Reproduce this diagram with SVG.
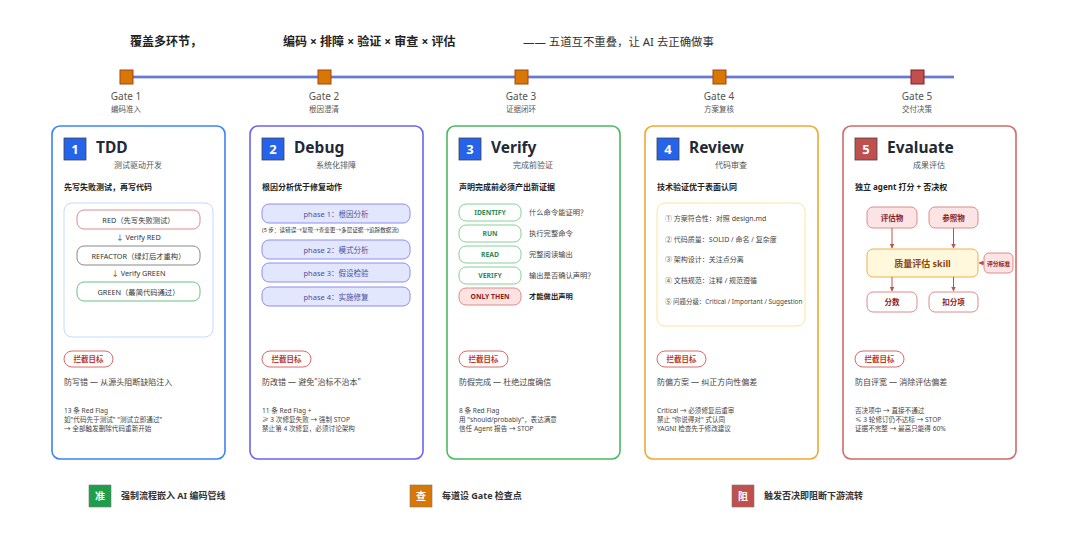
<svg xmlns="http://www.w3.org/2000/svg" width="1080" height="536" viewBox="0 0 1080 536">
<defs>
<style>
text{font-family:"Noto Sans","Noto Sans CJK SC",sans-serif;fill:#333}
.hd{font-size:12px;font-weight:700;fill:#222}
.hn{font-size:11.4px;fill:#333}
.gt{font-size:10px;fill:#555;text-anchor:middle}
.gs{font-size:7.5px;fill:#555;text-anchor:middle}
.card{fill:#fff;stroke-width:1.6}
.num{stroke:#444;stroke-width:0.8}
.numt{font-size:13px;font-weight:700;fill:#fff;text-anchor:middle}
.title{font-size:15.5px;font-weight:700;fill:#1f2937}
.sub{font-size:8px;fill:#555;text-anchor:middle}
.bold{font-size:8px;font-weight:700;fill:#222}
.tag{fill:#fff;stroke:#d96a6a;stroke-width:1}
.tagt{font-size:7.5px;font-weight:700;fill:#c0392b;text-anchor:middle}
.goal{font-size:8px;fill:#444}
.rf{font-size:6.6px;fill:#444}
.pill{fill:#fff;stroke-width:1}
.pt{font-size:7.3px;text-anchor:middle}
.ph{fill:#e3e7fd;stroke:#8c8ef0;stroke-width:1}
.pht{font-size:7.5px;fill:#4b4f9e;text-anchor:middle}
.vp{fill:#fff;stroke:#86d29a;stroke-width:1}
.vpt{font-size:6.8px;font-weight:700;fill:#2e8b57;text-anchor:middle}
.vl{font-size:7.3px;fill:#444}
.rv{font-size:7px;fill:#444}
.rv5{font-size:6.45px;fill:#444}
.eb{fill:#fde4e4;stroke:#e08a8a;stroke-width:1}
.ebt{font-size:7.5px;font-weight:700;fill:#8b1a1a;text-anchor:middle}
.ft{font-size:9px;font-weight:700;fill:#333}
.fbt{font-size:10px;font-weight:700;fill:#fff;text-anchor:middle}
</style>
<marker id="ah" viewBox="0 0 10 10" refX="9" refY="5" markerWidth="5" markerHeight="5" orient="auto-start-reverse">
<path d="M0,0L10,5L0,10z" fill="#c0504d"/>
</marker>
</defs>
<rect width="1080" height="536" fill="#fff"/>

<g id="header">
<text class="hd" x="130" y="46">覆盖多环节，</text>
<text class="hd" x="283" y="46">编码 × 排障 × 验证 × 审查 × 评估</text>
<text class="hn" x="523" y="46">—— 五道互不重叠，让 AI 去正确做事</text>
</g>

<g id="timeline">
<line x1="127" y1="77" x2="954" y2="77" stroke="#c7cdf2" stroke-width="4"/>
<line x1="127" y1="77" x2="954" y2="77" stroke="#4a5bc8" stroke-width="1.6"/>
</g>

<g id="gates">
<g id="gate1"><rect x="120" y="70" width="13" height="14" fill="#d97706" stroke="#a5470a" stroke-width="1"/><text class="gt" x="126" y="100">Gate 1</text><text class="gs" x="126" y="112">编码准入</text></g>
<g id="gate2"><rect x="318" y="70" width="13" height="14" fill="#d97706" stroke="#a5470a" stroke-width="1"/><text class="gt" x="324" y="100">Gate 2</text><text class="gs" x="324" y="112">根因澄清</text></g>
<g id="gate3"><rect x="515" y="70" width="13" height="14" fill="#d97706" stroke="#a5470a" stroke-width="1"/><text class="gt" x="521" y="100">Gate 3</text><text class="gs" x="521" y="112">证据闭环</text></g>
<g id="gate4"><rect x="713" y="70" width="13" height="14" fill="#d97706" stroke="#a5470a" stroke-width="1"/><text class="gt" x="719" y="100">Gate 4</text><text class="gs" x="719" y="112">方案复核</text></g>
<g id="gate5"><rect x="911" y="70" width="13" height="14" fill="#c0504d" stroke="#8b1a1a" stroke-width="1"/><text class="gt" x="917" y="100">Gate 5</text><text class="gs" x="917" y="112">交付决策</text></g>
</g>

<!-- TDD -->
<g id="card-tdd" transform="translate(52,0)">
<rect class="card" x="0" y="126" width="173" height="333" rx="8" stroke="#3b82f6"/>
<rect class="num" x="12" y="138" width="22" height="22" fill="#2563eb"/>
<text class="numt" x="23" y="154">1</text>
<text class="title" x="44" y="153">TDD</text>
<text class="sub" x="86" y="168">测试驱动开发</text>
<text class="bold" x="12" y="190">先写失败测试，再写代码</text>
<rect x="12" y="203" width="149" height="134" rx="8" fill="#fff" stroke="#bfdbfe" stroke-width="1"/>
<rect class="pill" x="25" y="210" width="123" height="19" rx="7" stroke="#e08a8a"/>
<text class="pt" x="86.5" y="222.5" fill="#c0392b">RED（先写失败测试）</text>
<text class="pt" x="86.5" y="240" fill="#333">↓ Verify RED</text>
<rect class="pill" x="25" y="246" width="123" height="19" rx="7" stroke="#888"/>
<text class="pt" x="86.5" y="258.5" fill="#444">REFACTOR（绿灯后才重构）</text>
<text class="pt" x="86.5" y="276" fill="#333">↓ Verify GREEN</text>
<rect class="pill" x="25" y="282" width="123" height="19" rx="7" stroke="#6cc08a"/>
<text class="pt" x="86.5" y="294.5" fill="#2e8b57">GREEN（最简代码通过）</text>
<rect class="tag" x="12" y="351" width="49" height="16" rx="8"/>
<text class="tagt" x="36.5" y="362">拦截目标</text>
<text class="goal" x="12" y="385">防写错 — 从源头阻断缺陷注入</text>
<text class="rf" x="12" y="413">13 条 Red Flag</text>
<text class="rf" x="12" y="422">如"代码先于测试" "测试立即通过"</text>
<text class="rf" x="12" y="431">→ 全部触发删除代码重新开始</text>
</g>

<!-- Debug -->
<g id="card-debug" transform="translate(250,0)">
<rect class="card" x="0" y="126" width="173" height="333" rx="8" stroke="#6b63f0"/>
<rect class="num" x="12" y="138" width="22" height="22" fill="#2563eb"/>
<text class="numt" x="23" y="154">2</text>
<text class="title" x="44" y="153">Debug</text>
<text class="sub" x="86" y="168">系统化排障</text>
<text class="bold" x="12" y="190">根因分析优于修复动作</text>
<rect class="ph" x="12" y="204" width="148" height="19" rx="7"/>
<text class="pht" x="86" y="216.5">phase 1：根因分析</text>
<text x="12" y="232" font-size="5.6" fill="#555">(5 步：读错误→复现→查变更→多层证据→追踪数据流)</text>
<rect class="ph" x="12" y="240" width="148" height="19" rx="7"/>
<text class="pht" x="86" y="252.5">phase 2：模式分析</text>
<rect class="ph" x="12" y="263" width="148" height="19" rx="7"/>
<text class="pht" x="86" y="275.5">phase 3：假设检验</text>
<rect class="ph" x="12" y="287" width="148" height="19" rx="7"/>
<text class="pht" x="86" y="299.5">phase 4：实施修复</text>
<rect class="tag" x="12" y="351" width="49" height="16" rx="8"/>
<text class="tagt" x="36.5" y="362">拦截目标</text>
<text class="goal" x="12" y="385">防改错 — 避免"治标不治本"</text>
<text class="rf" x="12" y="413">11 条 Red Flag +</text>
<text class="rf" x="12" y="422">≥ 3 次修复失败 → 强制 STOP</text>
<text class="rf" x="12" y="431">禁止第 4 次修复，必须讨论架构</text>
</g>

<!-- Verify -->
<g id="card-verify" transform="translate(447,0)">
<rect class="card" x="0" y="126" width="173" height="333" rx="8" stroke="#4cb863"/>
<rect class="num" x="12" y="138" width="22" height="22" fill="#2563eb"/>
<text class="numt" x="23" y="154">3</text>
<text class="title" x="44" y="153">Verify</text>
<text class="sub" x="86" y="168">完成前验证</text>
<text class="bold" x="12" y="190">声明完成前必须产出新证据</text>
<rect class="vp" x="12" y="204" width="62" height="17" rx="7"/>
<text class="vpt" x="43" y="215">IDENTIFY</text>
<text class="vl" x="82" y="215">什么命令能证明？</text>
<rect class="vp" x="12" y="225" width="62" height="17" rx="7"/>
<text class="vpt" x="43" y="236">RUN</text>
<text class="vl" x="82" y="236">执行完整命令</text>
<rect class="vp" x="12" y="246" width="62" height="17" rx="7"/>
<text class="vpt" x="43" y="257">READ</text>
<text class="vl" x="82" y="257">完整阅读输出</text>
<rect class="vp" x="12" y="267" width="62" height="17" rx="7"/>
<text class="vpt" x="43" y="278">VERIFY</text>
<text class="vl" x="82" y="278">输出是否确认声明？</text>
<rect x="12" y="288" width="62" height="17" rx="7" fill="#fde2e2" stroke="#e08a8a" stroke-width="1"/>
<text class="vpt" x="43" y="299" style="fill:#8b1a1a">ONLY THEN</text>
<text class="vl" x="82" y="299" style="fill:#222;font-weight:700">才能做出声明</text>
<rect class="tag" x="12" y="351" width="49" height="16" rx="8"/>
<text class="tagt" x="36.5" y="362">拦截目标</text>
<text class="goal" x="12" y="385">防假完成 — 杜绝过度确信</text>
<text class="rf" x="12" y="413">8 条 Red Flag</text>
<text class="rf" x="12" y="422">用 "should/probably"，表达满意</text>
<text class="rf" x="12" y="431">信任 Agent 报告 → STOP</text>
</g>

<!-- Review -->
<g id="card-review" transform="translate(645,0)">
<rect class="card" x="0" y="126" width="173" height="333" rx="8" stroke="#f0a830"/>
<rect class="num" x="12" y="138" width="22" height="22" fill="#2563eb"/>
<text class="numt" x="23" y="154">4</text>
<text class="title" x="44" y="153">Review</text>
<text class="sub" x="86" y="168">代码审查</text>
<text class="bold" x="12" y="190">技术验证优于表面认同</text>
<rect x="12" y="203" width="148" height="123" rx="8" fill="#fff" stroke="#fbe6a0" stroke-width="1"/>
<text class="rv" x="20" y="221">① 方案符合性：对照 design.md</text>
<text class="rv" x="20" y="242">② 代码质量：SOLID / 命名 / 复杂度</text>
<text class="rv" x="20" y="262">③ 架构设计：关注点分离</text>
<text class="rv" x="20" y="283">④ 文档规范：注释 / 规范遵循</text>
<text class="rv5" x="20" y="304">⑤ 问题分级：Critical / Important / Suggestion</text>
<rect class="tag" x="12" y="351" width="49" height="16" rx="8"/>
<text class="tagt" x="36.5" y="362">拦截目标</text>
<text class="goal" x="12" y="385">防偏方案 — 纠正方向性偏差</text>
<text class="rf" x="12" y="413">Critical → 必须修复后重审</text>
<text class="rf" x="12" y="422">禁止 "你说得对" 式认同</text>
<text class="rf" x="12" y="431">YAGNI 检查先于修改建议</text>
</g>

<!-- Evaluate -->
<g id="card-evaluate" transform="translate(843,0)">
<rect class="card" x="0" y="126" width="173" height="333" rx="8" stroke="#d06a6a"/>
<rect class="num" x="12" y="138" width="22" height="22" fill="#c0504d"/>
<text class="numt" x="23" y="154">5</text>
<text class="title" x="44" y="153">Evaluate</text>
<text class="sub" x="86" y="168">成果评估</text>
<text class="bold" x="12" y="190">独立 agent 打分 + 否决权</text>
<rect class="tag" x="12" y="351" width="49" height="16" rx="8"/>
<text class="tagt" x="36.5" y="362">拦截目标</text>
<text class="goal" x="12" y="385">防自评宽 — 消除评估偏差</text>
<text class="rf" x="12" y="413">否决项中 → 直接不通过</text>
<text class="rf" x="12" y="422">≤ 3 轮修订仍不达标 → STOP</text>
<text class="rf" x="12" y="431">证据不完整 → 最高只能得 60%</text>
</g>

<g id="eval-flow">
<g id="n-pingguwu"><rect class="eb" x="867" y="207" width="50" height="21" rx="6"/><text class="ebt" x="892" y="220.5">评估物</text></g>
<g id="n-canzhaowu"><rect class="eb" x="929" y="207" width="49" height="21" rx="6"/><text class="ebt" x="953.5" y="220.5">参照物</text></g>
<g id="n-skill"><rect x="867" y="249" width="111" height="28" rx="6" fill="#fff8dc" stroke="#f0b04a" stroke-width="1"/><text x="922.5" y="266.5" style="font-size:9px;font-weight:700;fill:#8b4513" text-anchor="middle">质量评估 skill</text></g>
<g id="n-biaozhun"><rect class="eb" x="984" y="253" width="29" height="20" rx="5"/><text x="998.5" y="265.5" style="font-size:5.8px;font-weight:700;fill:#8b1a1a" text-anchor="middle">评分标准</text></g>
<g id="n-fenshu"><rect x="867" y="292" width="50" height="20" rx="6" fill="#fff" stroke="#e08a8a" stroke-width="1"/><text class="ebt" x="892" y="305">分数</text></g>
<g id="n-koufen"><rect x="929" y="292" width="49" height="20" rx="6" fill="#fff" stroke="#e08a8a" stroke-width="1"/><text class="ebt" x="953.5" y="305">扣分项</text></g>
</g>

<g id="connectors" stroke="#c0504d" stroke-width="1" fill="none">
<line x1="892" y1="228" x2="892" y2="248" marker-end="url(#ah)"/>
<line x1="953.5" y1="228" x2="953.5" y2="248" marker-end="url(#ah)"/>
<line x1="892" y1="277" x2="892" y2="291" marker-end="url(#ah)"/>
<line x1="953.5" y1="277" x2="953.5" y2="291" marker-end="url(#ah)"/>
<line x1="984" y1="263" x2="979" y2="263" marker-end="url(#ah)"/>
</g>

<g id="footer">
<g id="f1"><rect x="89" y="485" width="22" height="22" fill="#1e9e4a" stroke="#777" stroke-width="0.6"/><text class="fbt" x="100" y="500">准</text><text class="ft" x="121" y="499">强制流程嵌入 AI 编码管线</text></g>
<g id="f2"><rect x="410" y="485" width="22" height="22" fill="#d97706" stroke="#777" stroke-width="0.6"/><text class="fbt" x="421" y="500">查</text><text class="ft" x="442" y="499">每道设 Gate 检查点</text></g>
<g id="f3"><rect x="732" y="485" width="22" height="22" fill="#c0504d" stroke="#777" stroke-width="0.6"/><text class="fbt" x="743" y="500">阻</text><text class="ft" x="764" y="499">触发否决即阻断下游流转</text></g>
</g>
</svg>
